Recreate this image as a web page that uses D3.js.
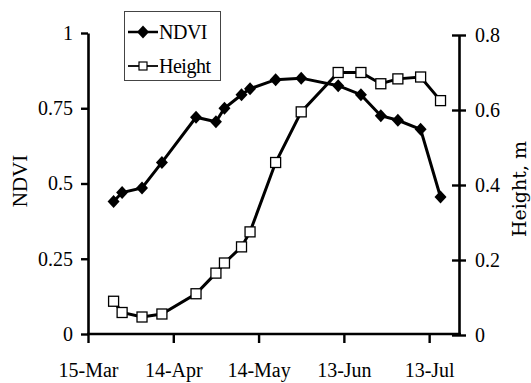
<!DOCTYPE html>
<html>
<head>
<meta charset="utf-8">
<script src="https://cdn.jsdelivr.net/npm/d3@7"></script>
<style>
  body { margin: 0; background: #fff; }
  svg { display: block; }
  text { font-family: "Liberation Serif", serif; fill: #000; }
</style>
</head>
<body>
<svg width="531" height="383"></svg>
<script>
// sampling dates (2001, day-month)
const dates = ["24-Mar","27-Mar","3-Apr","10-Apr","22-Apr","29-Apr","2-May","8-May","11-May",
               "20-May","29-May","11-Jun","19-Jun","26-Jun","2-Jul","10-Jul","17-Jul"];
const ndvi = [0.44, 0.47, 0.485, 0.57, 0.72, 0.705, 0.75, 0.795, 0.815,
              0.845, 0.85, 0.825, 0.795, 0.725, 0.71, 0.68, 0.455];
const height = [0.09, 0.06, 0.048, 0.056, 0.11, 0.165, 0.192, 0.235, 0.275,
                0.46, 0.595, 0.70, 0.70, 0.67, 0.683, 0.688, 0.625];
const xTicks = ["15-Mar","14-Apr","14-May","13-Jun","13-Jul"];
const ndviTicks = [0, 0.25, 0.5, 0.75, 1];
const heightTicks = [0, 0.2, 0.4, 0.6, 0.8];

const parse = d3.utcParse("%d-%b-%Y");
const fmt = d3.utcFormat("%-d-%b");
const toDate = s => parse(s + "-2001");

const data = dates.map((d, i) => ({date: toDate(d), ndvi: ndvi[i], height: height[i]}));

const svg = d3.select("svg");
const plotL = 88, plotR = 459, plotT = 33, plotB = 334;

const x = d3.scaleUtc()
  .domain([toDate("15-Mar"), d3.utcHour.offset(toDate("23-Jul"), 12)])
  .range([plotL, plotR]);
const yL = d3.scaleLinear().domain([0, 1]).range([plotB, plotT]);
const yR = d3.scaleLinear().domain([0, 0.8]).range([plotB + 1, plotT + 2]);

// axes
const axX = svg.append("g")
  .attr("transform", `translate(0,${plotB})`)
  .call(d3.axisBottom(x).tickValues(xTicks.map(toDate)).tickFormat(fmt)
    .tickSize(9).tickSizeOuter(0).tickPadding(20));

const axL = svg.append("g")
  .attr("transform", `translate(${plotL},0)`)
  .call(d3.axisLeft(yL).tickValues(ndviTicks).tickFormat(d3.format("~g"))
    .tickSize(7).tickSizeOuter(0).tickPadding(8));

const axR = svg.append("g")
  .attr("transform", `translate(${plotR},0)`)
  .call(d3.axisRight(yR).tickValues(heightTicks).tickFormat(d3.format("~g"))
    .tickSize(7).tickSizeOuter(0).tickPadding(9));
axR.selectAll(".tick line").attr("x1", -7).attr("x2", 7);

[axX, axL, axR].forEach(a => {
  a.attr("font-family", null);
  a.select(".domain").attr("stroke", "#000").attr("stroke-width", 2.6);
  a.selectAll(".tick line").attr("stroke", "#000").attr("stroke-width", 2.4);
  a.selectAll(".tick text")
    .style("font-family", "'Liberation Serif', serif")
    .style("font-size", "20px")
    .attr("fill", "#000");
});
axX.select(".domain").attr("d", `M${plotL - 1},0H${plotR + 2}`);

// axis titles
svg.append("text")
  .attr("transform", "translate(27,181) rotate(-90)")
  .attr("text-anchor", "middle")
  .style("font-size", "21px")
  .text("NDVI");

svg.append("text")
  .attr("transform", "translate(526,189) rotate(-90)")
  .attr("text-anchor", "middle")
  .style("font-family", "'DejaVu Serif', serif")
  .style("font-size", "19px")
  .text("Height, m");

const diamond = "M0,-6.5L6,0L0,6.5L-6,0Z";

// NDVI series
svg.append("path")
  .datum(data)
  .attr("fill", "none")
  .attr("stroke", "#000")
  .attr("stroke-width", 3)
  .attr("d", d3.line().x(d => x(d.date)).y(d => yL(d.ndvi)));

svg.selectAll(".nd")
  .data(data)
  .enter().append("path")
  .attr("class", "nd")
  .attr("transform", d => `translate(${x(d.date)},${yL(d.ndvi)})`)
  .attr("d", diamond)
  .attr("fill", "#000");

// Height series
svg.append("path")
  .datum(data)
  .attr("fill", "none")
  .attr("stroke", "#000")
  .attr("stroke-width", 3)
  .attr("d", d3.line().x(d => x(d.date)).y(d => yR(d.height)));

svg.selectAll(".ht")
  .data(data)
  .enter().append("rect")
  .attr("class", "ht")
  .attr("x", d => x(d.date) - 5)
  .attr("y", d => yR(d.height) - 5)
  .attr("width", 10)
  .attr("height", 10)
  .attr("fill", "#fff")
  .attr("stroke", "#000")
  .attr("stroke-width", 1.3);

// legend
const legend = svg.append("g");
legend.append("rect")
  .attr("x", 124.5).attr("y", 11.5)
  .attr("width", 96).attr("height", 69)
  .attr("fill", "#fff")
  .attr("stroke", "#444")
  .attr("stroke-width", 1);

legend.append("line")
  .attr("x1", 128).attr("x2", 158).attr("y1", 32).attr("y2", 32)
  .attr("stroke", "#000").attr("stroke-width", 2.5);
legend.append("path")
  .attr("transform", "translate(143,32)")
  .attr("d", diamond)
  .attr("fill", "#000");
legend.append("text")
  .attr("x", 159).attr("y", 39)
  .style("font-size", "20px")
  .style("letter-spacing", "-0.5px")
  .text("NDVI");

legend.append("line")
  .attr("x1", 128).attr("x2", 158).attr("y1", 66).attr("y2", 66)
  .attr("stroke", "#000").attr("stroke-width", 1.8);
legend.append("rect")
  .attr("x", 139).attr("y", 62)
  .attr("width", 8).attr("height", 8)
  .attr("fill", "#fff")
  .attr("stroke", "#000")
  .attr("stroke-width", 1.2);
legend.append("text")
  .attr("x", 159).attr("y", 73)
  .style("font-size", "20px")
  .style("letter-spacing", "-0.5px")
  .text("Height");
</script>
</body>
</html>
